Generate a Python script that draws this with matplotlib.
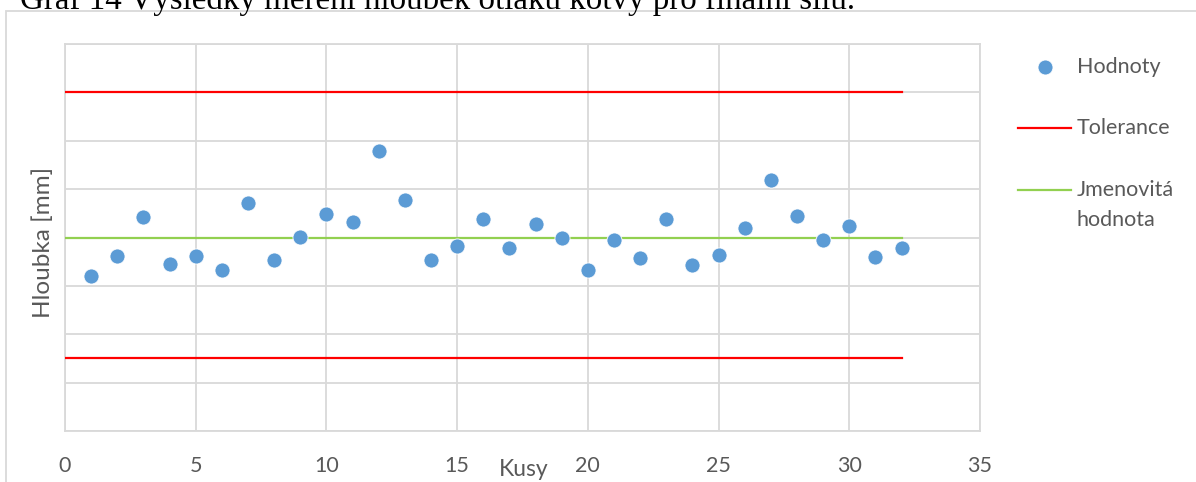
import matplotlib
matplotlib.use("Agg")
import matplotlib.pyplot as plt
from matplotlib.lines import Line2D
from matplotlib.patches import Rectangle

# data (y in mm, no y tick labels in the source)
kusy = list(range(1, 33))
hodnoty = [0.920, 0.962, 1.042, 0.946, 0.962, 0.932, 1.072, 0.953, 1.002, 1.048,
           1.032, 1.178, 1.078, 0.953, 0.982, 1.038, 0.978, 1.028, 0.998, 0.932,
           0.994, 0.958, 1.039, 0.944, 0.963, 1.019, 1.119, 1.044, 0.994, 1.024,
           0.959, 0.979]
tol_x = [0, 32]
tol_horni = [1.30, 1.30]
tol_dolni = [0.75, 0.75]
jmenovita = [1.00, 1.00]
x_ticks = [0, 5, 10, 15, 20, 25, 30, 35]

W, H = 1196, 482
fig = plt.figure(figsize=(W / 100, H / 100), dpi=100)


def px(x, y):
    return x / W, 1 - y / H


FONT = "Lato"
GRAY = "#595959"
GRID = "#d9d9d9"
BLUE = "#5b9bd5"
RED = "#ff0000"
GREEN = "#92d050"

# outer chart border (top and left visible)
fig.add_artist(Rectangle(px(6, 600), (W + 50) / W, (600 - 11) / H,
                         transform=fig.transFigure, fill=False,
                         edgecolor=GRID, linewidth=1.3))

# cropped caption at the very top
fig.text(*px(20, 9), "Graf 14 Výsledky měření hloubek otlaku kotvy pro finální sílu.",
         fontfamily="Liberation Serif", fontsize=23.8, color="black", va="baseline")

l, t, r, b = 65, 44, 980, 431
ax = fig.add_axes([l / W, 1 - b / H, (r - l) / W, (b - t) / H])

ax.plot(tol_x, tol_horni, color=RED, linewidth=1.6, zorder=3)
ax.plot(tol_x, tol_dolni, color=RED, linewidth=1.6, zorder=3)
ax.plot(tol_x, jmenovita, color=GREEN, linewidth=1.6, zorder=3)
ax.scatter(kusy, hodnoty, s=118, color=BLUE, edgecolor="white", linewidth=0.6, zorder=4)

ax.set_xlim(0, 35)
ax.set_ylim(0.6, 1.4)
ax.set_xticks(x_ticks)
ax.set_yticks([0.6 + 0.1 * i for i in range(9)])
ax.set_yticklabels([])
ax.grid(True, color=GRID, linewidth=1.3)
ax.set_axisbelow(True)
ax.tick_params(length=0, pad=18, labelsize=15.5, labelcolor=GRAY)
for lab in ax.get_xticklabels():
    lab.set_fontfamily(FONT)
for s in ax.spines.values():
    s.set_color(GRID)
    s.set_linewidth(1.3)

fig.text(*px(524, 470), "Kusy", fontfamily=FONT, fontsize=16.5, color=GRAY,
         ha="center", va="center")
fig.text(*px(43, 242), "Hloubka [mm]", fontfamily=FONT, fontsize=17.5, color=GRAY,
         ha="center", va="center", rotation=90)

# legend drawn to the right of the plot
fig.add_artist(Line2D([1045 / W], [1 - 66.7 / H], marker="o", markersize=10.8,
                      color=BLUE, markeredgecolor="white", markeredgewidth=0.6,
                      transform=fig.transFigure))
for y, c in [(128, RED), (190.5, GREEN)]:
    fig.add_artist(Line2D([1018 / W, 1071 / W], [1 - y / H, 1 - y / H], color=c,
                          linewidth=1.6, transform=fig.transFigure))
for y, s in [(66.7, "Hodnoty"), (128, "Tolerance"), (190.5, "Jmenovitá"), (220, "hodnota")]:
    fig.text(*px(1077, y), s, fontfamily=FONT, fontsize=15.5, color=GRAY, va="center")

fig.savefig("out.png", dpi=100)
